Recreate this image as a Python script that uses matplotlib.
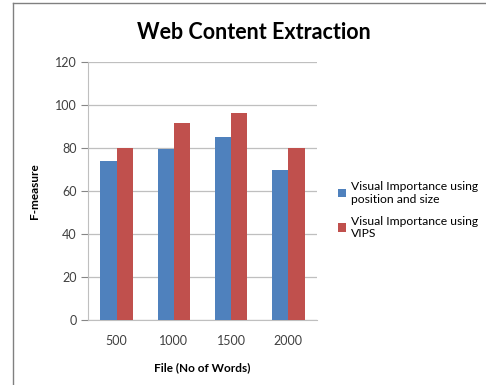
import numpy as np
import matplotlib.pyplot as plt
from matplotlib.lines import Line2D

plt.rcParams['font.family'] = ['Lato', 'DejaVu Sans']

categories = ["500", "1000", "1500", "2000"]
position_size = [74, 79.5, 85, 70]
vips = [80, 91.5, 96.5, 80]
series_names = ["Visual Importance using\nposition and size",
                "Visual Importance using\nVIPS"]
yticks = [0, 20, 40, 60, 80, 100, 120]

fig = plt.figure(figsize=(4.86, 3.85), dpi=100)
ax = fig.add_axes([88 / 486, 65 / 385, 229 / 486, 258 / 385])

x = np.arange(len(categories))
w = 0.285
ax.bar(x - w / 2, position_size, w, color="#4F81BD", label=series_names[0], zorder=3)
ax.bar(x + w / 2, vips, w, color="#C0504D", label=series_names[1], zorder=3)

ax.set_xlim(-0.5, len(categories) - 0.5)
ax.set_ylim(0, 120)
ax.set_yticks(yticks)
ax.set_xticks(x)
ax.set_xticklabels(categories)
ax.yaxis.grid(True, color="#BFBFBF", linewidth=0.9, zorder=0)
ax.tick_params(axis="y", length=5, color="#868686", labelsize=9, labelcolor="#404040", pad=3)
ax.tick_params(axis="x", length=0, labelsize=9, labelcolor="#404040", pad=11)
for s in ["top", "right"]:
    ax.spines[s].set_visible(False)
ax.spines["left"].set_color("#BFBFBF")
ax.spines["bottom"].set_color("#BFBFBF")

ax.set_xlabel("File (No of Words)", fontsize=8.5, fontweight="bold", labelpad=11)
ax.set_ylabel("F-measure", fontsize=8.5, fontweight="bold", labelpad=11)
fig.text(0.522, 0.915, "Web Content Extraction", ha="center", va="center",
         fontsize=15.5, fontweight="bold")

ax.legend(loc="upper left", bbox_to_anchor=(333 / 486, 1 - 176 / 385),
          bbox_transform=fig.transFigure, frameon=False, fontsize=8.7,
          handlelength=0.7, handleheight=0.7, handletextpad=0.4,
          labelspacing=0.9, borderaxespad=0)

fig.add_artist(Line2D([13 / 486, 13 / 486], [0, 1 - 3 / 385], color="#808080", linewidth=1))
fig.add_artist(Line2D([13 / 486, 1], [1 - 3 / 385, 1 - 3 / 385], color="#808080", linewidth=1))

fig.savefig("out.png", dpi=100)
